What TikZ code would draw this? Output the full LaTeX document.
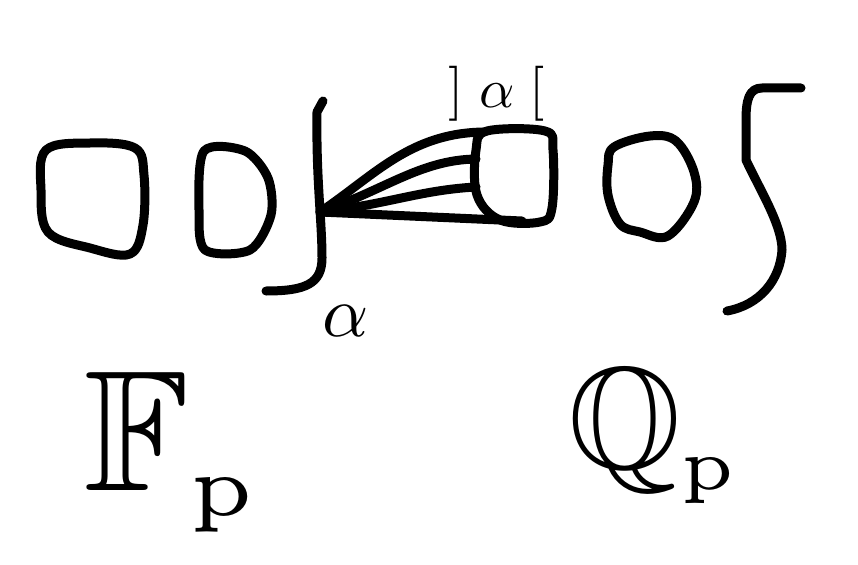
\documentclass[tikz,border=0pt]{standalone}
\usepackage{amssymb}
\begin{document}
\begin{tikzpicture}[x=1pt,y=-1pt,
  ink/.style={line width=9pt, line cap=round, line join=round},
  lab/.style={inner sep=0pt, outer sep=0pt}]
\useasboundingbox (0,0) rectangle (858,564);
% boxes
\draw[ink] plot[smooth cycle, tension=0.6] coordinates {(46,150) (90,143) (135,148) (144,175) (143,225) (130,254) (90,248) (48,232) (41,190)};
\draw[ink] plot[smooth cycle, tension=0.5] coordinates {(204,151) (245,151) (268,178) (271,215) (250,250) (205,250) (199,210)};
\draw[ink] plot[smooth cycle, tension=0.6] coordinates {(487,131) (545,131) (553,150) (552,208) (540,222) (500,220) (477,195) (476,150)};
\draw[ink] plot[smooth cycle, tension=0.6] coordinates {(614,147) (650,136) (676,141) (694,172) (694,202) (668,236) (640,232) (620,224) (608,195) (608,165)};
% left bracket
\draw[ink] (323,101) -- (317,112) .. controls (316,180) and (322,220) .. (322,258) .. controls (322,284) and (305,291) .. (266,291);
% right bracket
\draw[ink] (801,88) -- (762,88) .. controls (749,88) and (746,100) .. (746,120) -- (746,160) .. controls (760,190) and (782,225) .. (782,250) .. controls (780,280) and (760,305) .. (727,311);
% connectors
\coordinate (P) at (320,212);
\coordinate (t1) at (484,132);
\coordinate (t2) at (476,159);
\coordinate (t3) at (476,187);
\coordinate (t4) at (522,221);
\draw[ink] (P) .. controls (375,175) and (410,133) .. (t1);
\draw[ink] (P) .. controls (385,190) and (420,160) .. (t2);
\draw[ink] (P) .. controls (385,205) and (420,190) .. (t3);
\draw[ink] (P) -- (t4);
% labels
\node[lab, scale=7.2, anchor=base west] (alpha) at (322,336) {$\alpha$};
\node[lab, scale=5.5, anchor=base] (disc) at (497,108) {$\mathbf{]}\mkern5mu\alpha\mkern5mu\mathbf{[}$};
\node[lab, scale=17.2, anchor=base west] (Fp) at (84,490) {$\mathbb{F}_{\scriptscriptstyle\mathrm{p}}$};
\node[lab, scale=14.5, anchor=base west] (Qp) at (568,468) {$\mathbb{Q}_{\scriptscriptstyle\mathrm{p}}$};
\end{tikzpicture}
\end{document}
